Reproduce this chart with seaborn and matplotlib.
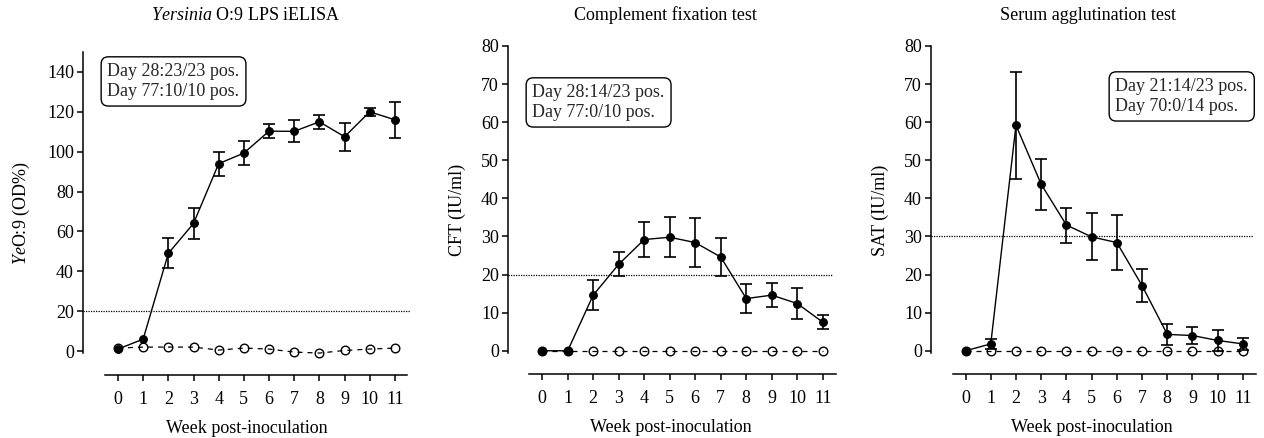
import numpy as np
import pandas as pd
import matplotlib
matplotlib.use("Agg")
import matplotlib.pyplot as plt
import seaborn as sns

weeks = list(range(12))

elisa_inf = [1, 6, 49, 64, 94, 99.3, 110.3, 110.2, 115, 107.5, 120, 116]
elisa_err = [0, 0, 7.5, 7.8, 6, 6, 3.5, 5.5, 3.6, 7, 2, 9]
elisa_ctl = [1.5, 2, 2, 2, 0.5, 1.5, 1, -0.5, -1, 0.3, 1, 1.5]

cft_inf = [0, 0, 14.6, 22.7, 29.2, 29.8, 28.4, 24.6, 13.7, 14.6, 12.4, 7.5]
cft_err = [0, 0, 3.9, 3.1, 4.6, 5.2, 6.5, 4.9, 3.9, 3.2, 4.0, 1.9]
cft_ctl = [0] * 12

sat_inf = [0, 1.8, 59.2, 43.7, 33.0, 29.9, 28.4, 17.1, 4.3, 4.0, 2.7, 1.8]
sat_err = [0, 1.3, 14.0, 6.7, 4.6, 6.2, 7.2, 4.3, 2.8, 2.2, 2.7, 1.5]
sat_ctl = [0] * 12

titles = ["$\\mathit{Yersinia}$ O:9 LPS iELISA", "Complement fixation test", "Serum agglutination test"]
ylabels = ["$\\mathit{Ye}$O:9 (OD%)", "CFT (IU/ml)", "SAT (IU/ml)"]
thresholds = [20, 20, 30]
notes = ["Day 28:23/23 pos.\nDay 77:10/10 pos.",
         "Day 28:14/23 pos.\nDay 77:0/10 pos.",
         "Day 21:14/23 pos.\nDay 70:0/14 pos."]
yticks = [list(range(0, 141, 20)), list(range(0, 81, 10)), list(range(0, 81, 10))]

sns.set_theme(style="ticks")
plt.rcParams['font.family'] = ['Liberation Serif', 'DejaVu Serif']
plt.rcParams['mathtext.fontset'] = 'custom'
plt.rcParams['mathtext.rm'] = 'Liberation Serif'
plt.rcParams['mathtext.it'] = 'Liberation Serif:italic'
plt.rcParams['axes.unicode_minus'] = False

FS = 13
W, H = 1264, 438
fig = plt.figure(figsize=(W / 100, H / 100), dpi=100)

# axes boxes in pixels: left, right, top, bottom
boxes = [(83, 410, 52, 375), (508, 833, 46, 374), (931, 1253, 46, 374)]
ylims = [(-12, 150), (-6.1, 80), (-6.1, 80)]
ybounds = [(-1, 150), (-0.5, 80), (-0.5, 80)]
xlims = [(-1.39, 11.6), (-1.34, 11.4), (-1.37, 11.4)]
note_pos = [(98, 57), (523, 78), (1106, 72)]
title_x = [246, 665, 1088]

series = [(elisa_inf, elisa_err, elisa_ctl), (cft_inf, cft_err, cft_ctl), (sat_inf, sat_err, sat_ctl)]

for i in range(3):
    l, r, t, b = boxes[i]
    ax = fig.add_axes([l / W, 1 - b / H, (r - l) / W, (b - t) / H])
    inf, err, ctl = series[i]
    df = pd.DataFrame({"week": weeks, "inf": inf, "ctl": ctl})

    ax.axhline(thresholds[i], color="black", lw=0.9, ls=(0, (1, 1)), zorder=1)

    sns.lineplot(data=df, x="week", y="ctl", ax=ax, color="black", lw=0.9,
                 linestyle=(0, (4, 4)), marker="o", markersize=6.2,
                 markerfacecolor="none", markeredgecolor="black", markeredgewidth=1.0,
                 zorder=2)
    sns.lineplot(data=df, x="week", y="inf", ax=ax, color="black", lw=1.0,
                 marker="o", markersize=5.6, markerfacecolor="black",
                 markeredgecolor="black", zorder=4)
    e = np.array(err)
    mask = e > 0
    ax.errorbar(np.array(weeks)[mask], np.array(inf)[mask], yerr=e[mask], fmt="none",
                ecolor="black", elinewidth=1.2, capsize=4, capthick=1.2, zorder=3)

    ax.set_xlim(*xlims[i])
    ax.set_ylim(*ylims[i])
    ax.set_xticks(weeks)
    ax.set_xticklabels([str(w) for w in weeks])
    ax.set_yticks(yticks[i])
    ax.spines['top'].set_visible(False)
    ax.spines['right'].set_visible(False)
    ax.spines['left'].set_bounds(*ybounds[i])
    ax.spines['bottom'].set_bounds(-0.5, 11.5)
    for s in ['left', 'bottom']:
        ax.spines[s].set_linewidth(1.1)
        ax.spines[s].set_color("black")
    ax.tick_params(axis='y', length=4.5, width=1.1, pad=2, labelsize=FS, colors="black")
    ax.tick_params(axis='x', length=4, width=1.1, pad=7.5, labelsize=FS, colors="black")
    ax.set_xlabel("Week post-inoculation", fontsize=FS, labelpad=9, color="black")
    ax.set_ylabel(ylabels[i], fontsize=FS, labelpad=11, color="black")
    fig.text(title_x[i] / W, 1 - 15.5 / H, titles[i], fontsize=FS, ha="center", va="center",
             color="black")

    nx, ny = note_pos[i]
    fig.text(nx / W + 0.0075, 1 - ny / H - 0.014, notes[i], fontsize=FS, ha="left", va="top",
             linespacing=1.2,
             bbox=dict(boxstyle="round,pad=0.35,rounding_size=0.4", fc="white", ec="black", lw=1.0))

fig.savefig("out.png", dpi=100)
